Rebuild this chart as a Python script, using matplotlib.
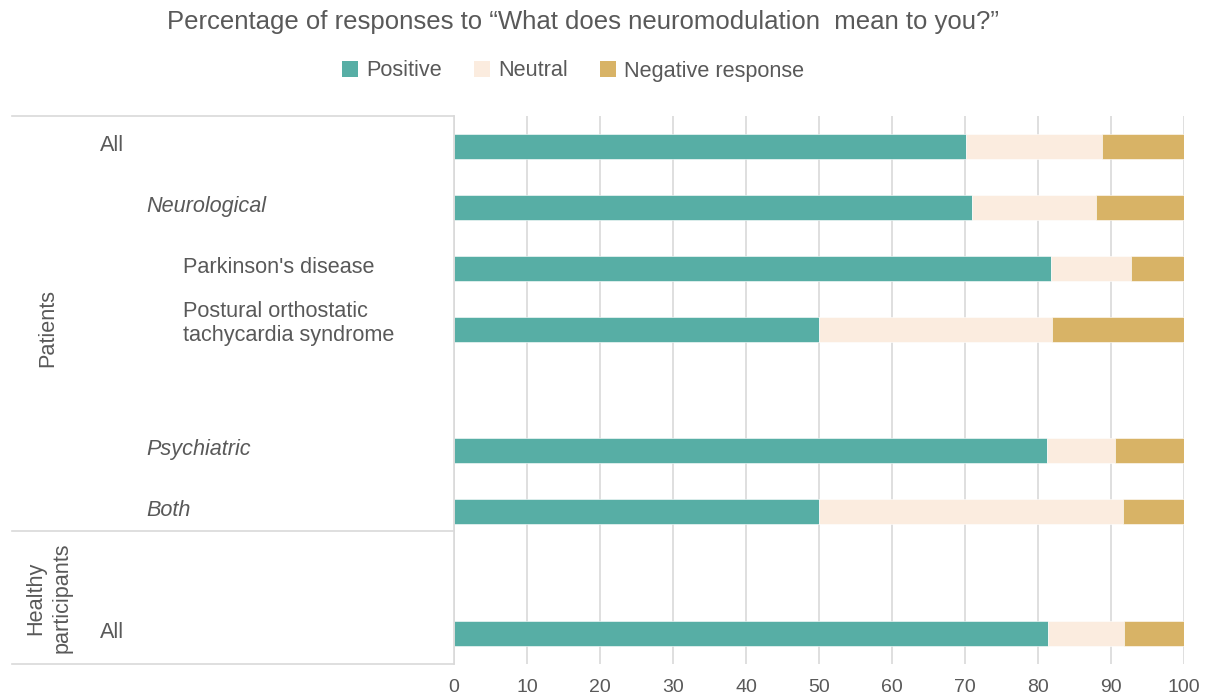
import matplotlib
matplotlib.use("Agg")
import matplotlib.pyplot as plt
from matplotlib.patches import Patch
from matplotlib.lines import Line2D
from matplotlib.transforms import blended_transform_factory

plt.rcParams['font.family'] = ['Liberation Sans', 'DejaVu Sans']

# data (percent)
categories = ["All", "Neurological", "Parkinson's disease",
              "Postural orthostatic\ntachycardia syndrome",
              "Psychiatric", "Both", "All"]
slots = [0, 1, 2, 3, 5, 6, 8]
positive = [70.1, 70.9, 81.8, 50.0, 81.2, 50.0, 81.4]
neutral = [18.6, 17.1, 10.9, 31.9, 9.4, 41.7, 10.4]
negative = [100 - p - n for p, n in zip(positive, neutral)]
series_names = ["Positive", "Neutral", "Negative response"]
colors = ["#57AEA5", "#FBECDF", "#D8B366"]

label_x = [100, 146, 183, 183, 146, 146, 100]
italic = [False, True, False, False, True, True, False]

txt = "#595959"
grid = "#D9D9D9"
W, H = 1206, 696

fig = plt.figure(figsize=(W / 100, H / 100), dpi=100)
ax = fig.add_axes([454 / W, 1 - 664 / H, 730 / W, 548 / H])

left = [0] * len(positive)
for vals, c in zip([positive, neutral, negative], colors):
    ax.barh(slots, vals, left=left, height=0.41, color=c, edgecolor="white", linewidth=0.4)
    left = [l + v for l, v in zip(left, vals)]

ax.set_xlim(0, 100)
ax.set_ylim(8.5, -0.5)
ax.set_xticks(range(0, 101, 10))
ax.set_yticks([])
ax.grid(axis="x", color=grid, linewidth=1.2)
ax.set_axisbelow(True)
for s in ["top", "right", "bottom"]:
    ax.spines[s].set_visible(False)
ax.spines["left"].set_color(grid)
ax.spines["left"].set_linewidth(1.2)
ax.tick_params(axis="x", length=0, pad=11, labelsize=14, labelcolor=txt)

# left-hand row labels
tr = blended_transform_factory(fig.transFigure, ax.transData)
for name, s, x, it in zip(categories, slots, label_x, italic):
    off = -0.09 if "\n" in name else -0.02
    ax.text(x / W, s + off, name, transform=tr, ha="left", va="center",
            fontsize=15.6, color=txt, style="italic" if it else "normal",
            linespacing=1.2)

fig.text(48 / W, 1 - 328 / H, "Patients", rotation=90, ha="center", va="center",
         fontsize=15.6, color=txt)
fig.text(49 / W, 1 - 598 / H, "Healthy\nparticipants", rotation=90, ha="center",
         va="center", fontsize=15.6, color=txt, linespacing=1.3)

for yp in [116, 531, 664]:
    fig.add_artist(Line2D([12 / W, 454 / W], [1 - yp / H, 1 - yp / H],
                          color=grid, linewidth=1.2, transform=fig.transFigure))

fig.text(583 / W, 1 - 22 / H,
         "Percentage of responses to \u201cWhat does neuromodulation  mean to you?\u201d",
         ha="center", va="center", fontsize=18.5, color=txt)

handles = [Patch(facecolor=c, edgecolor="none") for c in colors]
fig.legend(handles, series_names, loc="center", bbox_to_anchor=(573 / W, 1 - 71 / H),
           ncol=3, frameon=False, fontsize=15.6, handlelength=0.75, handleheight=0.75,
           handletextpad=0.35, columnspacing=1.5, labelcolor=txt)

fig.savefig("out.png", dpi=100)
